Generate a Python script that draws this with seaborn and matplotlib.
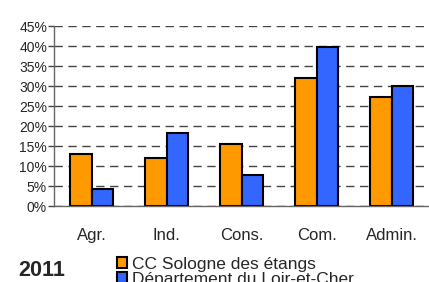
import seaborn as sns
import matplotlib.pyplot as plt
import pandas as pd
from matplotlib.patches import Patch

categories = ["Agr.", "Ind.", "Cons.", "Com.", "Admin."]
cc_sologne = [13.1, 12.1, 15.4, 31.9, 27.3]
loir_cher = [4.3, 18.2, 7.7, 39.8, 30.0]
series = ["CC Sologne des étangs", "Département du Loir-et-Cher"]

df = pd.DataFrame({
    "cat": categories * 2,
    "val": cc_sologne + loir_cher,
    "serie": [series[0]] * 5 + [series[1]] * 5,
})

sns.set_style("white")
plt.rcParams["font.family"] = ["Liberation Sans", "DejaVu Sans"]

fig = plt.figure(figsize=(4.29, 2.82), dpi=100)
ax = fig.add_axes([54 / 429, 76 / 282, 375 / 429, 180 / 282])

sns.barplot(data=df, x="cat", y="val", hue="serie", order=categories,
            palette=["#FF9900", "#3366FF"], width=0.57, edgecolor="black",
            linewidth=1.5, saturation=1, ax=ax, legend=False)

ax.set_ylim(0, 45)
ax.set_xlim(-0.5, -0.5 + 375 / 77.3)
ax.set_yticks(range(0, 46, 5))
ax.set_yticklabels([f"{v}%" for v in range(0, 46, 5)], fontsize=10)
ax.set_xticks(range(5))
ax.set_xticklabels(categories, fontsize=12)
ax.set_xticks([i - 0.5 for i in range(6)], minor=True)
ax.tick_params(axis="x", which="major", length=0, pad=16)
ax.tick_params(axis="x", which="minor", length=4, color="#444444", width=1, direction="out")
ax.tick_params(axis="y", length=4, color="#444444", width=1, direction="out", pad=1, left=True)
ax.set_xlabel("")
ax.set_ylabel("")
ax.yaxis.grid(True, linestyle=(0, (6, 4)), color="#444444", linewidth=1)
ax.set_axisbelow(True)
for s in ["top", "right"]:
    ax.spines[s].set_visible(False)
for s in ["left", "bottom"]:
    ax.spines[s].set_color("#666666")
    ax.spines[s].set_linewidth(1)

handles = [Patch(facecolor="#FF9900", edgecolor="black", linewidth=1.5),
           Patch(facecolor="#3366FF", edgecolor="black", linewidth=1.5)]
fig.legend(handles, series, loc="upper left", bbox_to_anchor=(117 / 429, 1 - 257 / 282),
           frameon=False, borderpad=0, borderaxespad=0, fontsize=12.5,
           handlelength=0.6, handleheight=0.6, handletextpad=0.25, labelspacing=0.0)

fig.text(18 / 429, 1 - 271 / 282, "2011", fontsize=15.5, fontweight="bold", va="center")

fig.savefig("out.png", dpi=100)
